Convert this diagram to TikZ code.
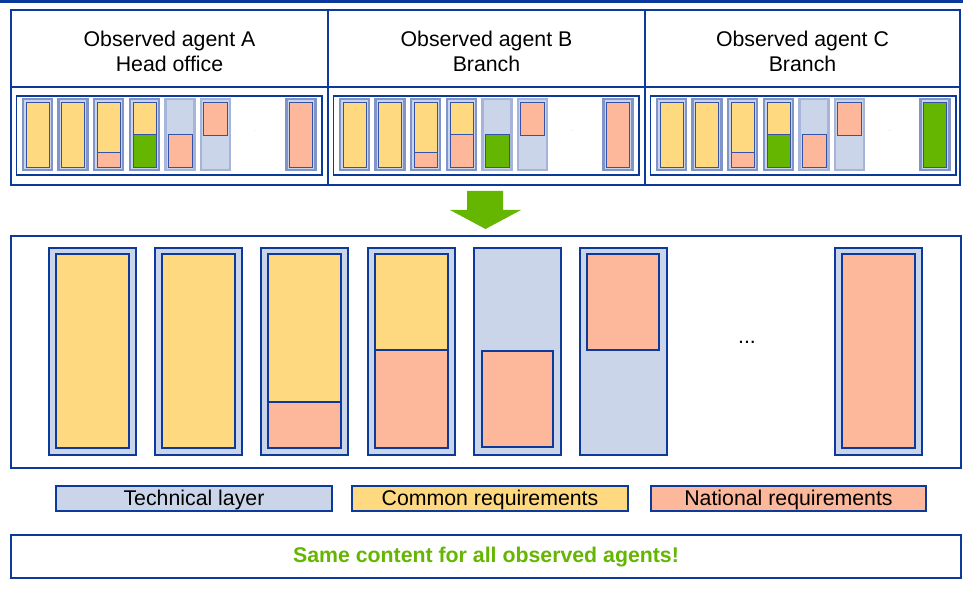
\documentclass[tikz,border=0pt]{standalone}
\usepackage{fontspec}
\setmainfont{Liberation Sans}
\definecolor{dblue}{HTML}{0B3A9C}
\definecolor{techc}{HTML}{CBD5EA}
\definecolor{yelc}{HTML}{FFD980}
\definecolor{pinkc}{HTML}{FDB79A}
\definecolor{greenc}{HTML}{64B600}
\definecolor{sblue}{HTML}{8094CA}
\definecolor{siblue}{HTML}{3352A8}
\tikzset{
  bigout/.style={draw=dblue, line width=1.6pt, fill=techc},
  bigin/.style={draw=dblue, line width=1.6pt},
  smout/.style={draw=sblue, line width=2.2pt, fill=techc},
  smin/.style={draw=siblue, line width=0.9pt},
  frame/.style={draw=dblue, line width=1.6pt},
  legendbox/.style={draw=dblue, line width=1.3pt, minimum width=276pt, minimum height=25pt, inner sep=0pt, text height=18pt, text depth=4pt, font=\fontsize{21.3}{25}\selectfont},
  headtxt/.style={align=center, inner sep=0pt, font=\fontsize{21.3}{25.5}\selectfont},
}
% big columns
\newcommand\BigOuter[1]{\draw[bigout] (#1,248) rectangle (#1+87,455);}
\newcommand\BigFull[2]{\BigOuter{#1}\draw[bigin,fill=#2] (#1+7,254) rectangle (#1+80,448);}
\newcommand\BigSplit[2]{\BigOuter{#1}\draw[bigin,fill=yelc] (#1+7,254) rectangle (#1+80,#2);\draw[bigin,fill=pinkc] (#1+7,#2) rectangle (#1+80,448);}
\newcommand\BigLow[1]{\BigOuter{#1}\draw[bigin,fill=pinkc] (#1+8,351) rectangle (#1+79,447);}
\newcommand\BigHigh[1]{\BigOuter{#1}\draw[bigin,fill=pinkc] (#1+7,254) rectangle (#1+79,350);}
% small columns
\newcommand\SmOuter[1]{\draw[smout] (#1,99) rectangle (#1+29,170);}
\newcommand\SmFull[2]{\SmOuter{#1}\draw[smin,fill=#2] (#1+3,102) rectangle (#1+26,167);}
\newcommand\SmSplit[3]{\SmOuter{#1}\draw[smin,fill=yelc] (#1+3,102) rectangle (#1+26,#2);\draw[smin,fill=#3] (#1+3,#2) rectangle (#1+26,167);}
\newcommand\SmLow[2]{\draw[smout,draw=sblue!70] (#1,99) rectangle (#1+29,170);\draw[smin,fill=#2] (#1+2.5,134.5) rectangle (#1+26.5,167.5);}
\newcommand\SmHigh[1]{\draw[smout,draw=sblue!70] (#1,99) rectangle (#1+29,170);\draw[smin,fill=pinkc] (#1+2.5,102) rectangle (#1+26.5,135);}
% one agent panel: x0, name, col4 lower colour, col5 box colour, last colour
\newcommand\Agent[5]{%
  \draw[draw=dblue, line width=1.3pt] (#1-6.5,96) rectangle (#1+299,175);
  \SmFull{#1}{yelc}
  \SmFull{#1+35.5}{yelc}
  \SmSplit{#1+71}{152}{pinkc}
  \SmSplit{#1+107}{134.5}{#3}
  \SmLow{#1+142.5}{#4}
  \SmHigh{#1+178}
  \SmFull{#1+263.5}{#5}
  \node[inner sep=0pt, text=gray!50, font=\fontsize{4}{4}\selectfont] (dots#2) at (#1+232.5,131) {...};
}
\begin{document}
\begin{tikzpicture}[x=1pt,y=-1pt]
\useasboundingbox (0,0) rectangle (963,593);
% top bar
\fill[dblue] (0,0) rectangle (963,3);
% table
\draw[frame] (11,10) rectangle (960,185);
\draw[frame] (11,87) -- (960,87);
\draw[frame] (328,10) -- (328,185);
\draw[frame] (645,10) -- (645,185);
\node[headtxt] (hA) at (169.5,51.5) {Observed agent A\\Head office};
\node[headtxt] (hB) at (486.5,51.5) {Observed agent B\\Branch};
\node[headtxt] (hC) at (802.5,51.5) {Observed agent C\\Branch};
\Agent{23}{A}{greenc}{pinkc}{pinkc}
\Agent{340}{B}{pinkc}{greenc}{pinkc}
\Agent{657}{C}{greenc}{pinkc}{greenc}
% green arrow
\fill[greenc] (467,191) -- (503,191) -- (503,210) -- (521,210) -- (485.5,229) -- (450,210) -- (467,210) -- cycle;
% big panel
\draw[draw=dblue, line width=1.5pt] (11,236) rectangle (961,468);
\BigFull{49}{yelc}
\BigFull{155}{yelc}
\BigSplit{261}{402}
\BigSplit{368}{350}
\BigLow{474}
\BigHigh{580}
\BigFull{835}{pinkc}
\node[inner sep=0pt, font=\fontsize{21.3}{24}\selectfont] (bigdots) at (747,342) {...};
% legend
\node[legendbox, fill=techc] (ltech) at (194,498.5) {Technical layer};
\node[legendbox, fill=yelc] (lcommon) at (490,498.5) {Common requirements};
\node[legendbox, fill=pinkc, minimum width=275pt] (lnat) at (788.5,498.5) {National requirements};
% bottom box
\node[draw=dblue, line width=1.3pt, minimum width=950pt, minimum height=43pt, inner sep=0pt, text height=17pt, text depth=4.5pt, text=greenc, font=\fontsize{21.3}{24}\selectfont\bfseries] (same) at (486,556.5) {Same content for all observed agents!};
\end{tikzpicture}
\end{document}
